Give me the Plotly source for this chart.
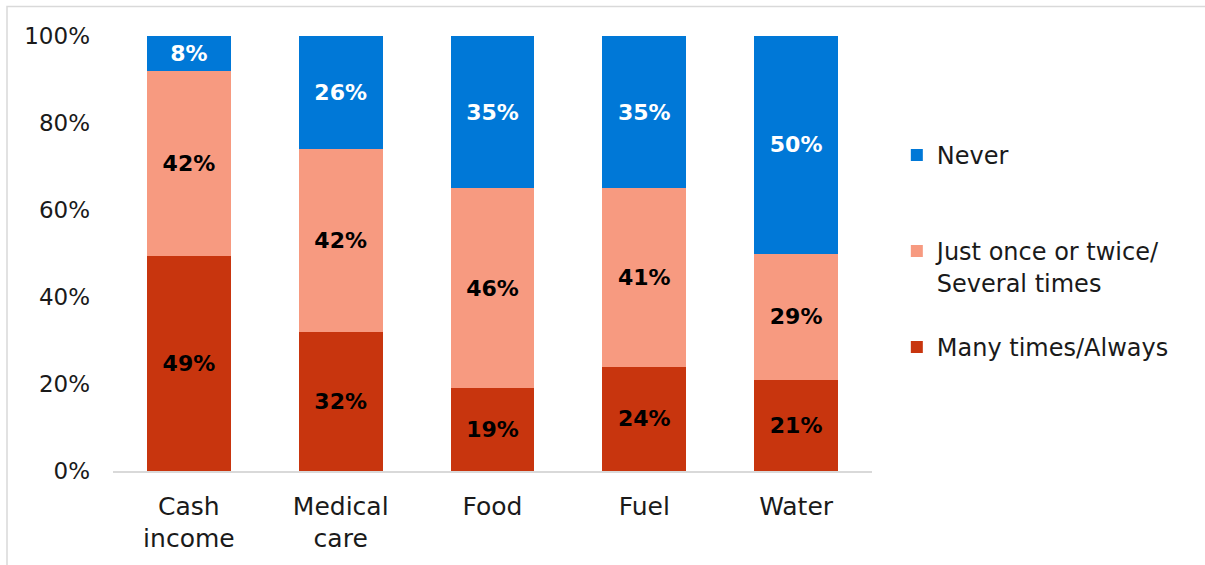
import plotly.graph_objects as go

categories = ["Cash<br>income", "Medical<br>care", "Food", "Fuel", "Water"]
many_always = [49, 32, 19, 24, 21]
once_several = [42, 42, 46, 41, 29]
never = [8, 26, 35, 35, 50]
y_ticks = [0, 20, 40, 60, 80, 100]
y_tick_labels = ["0%", "20%", "40%", "60%", "80%", "100%"]

FONT = "Century Gothic, DejaVu Sans, sans-serif"
W, H = 1205, 565
L, R, T, B = 113, 333, 36, 94

fig = go.Figure()
series = [
    ("Many times/Always", many_always, "#C8350E", "#000000", "legend3"),
    ("Just once or twice/<br>Several times", once_several, "#F79A80", "#000000", "legend2"),
    ("Never", never, "#0078D7", "#FFFFFF", "legend"),
]
for name, vals, col, tcol, lg in series:
    fig.add_trace(go.Bar(
        x=categories, y=vals, name=name,
        marker=dict(color=col, line=dict(width=0)),
        text=[f"{v}%" for v in vals], textposition="inside",
        insidetextanchor="middle", textangle=0,
        textfont=dict(family=FONT, size=22, color=tcol, weight="bold"),
        legend=lg, hoverinfo="skip",
    ))

def leg(ypix):
    return dict(x=939 / W - 0.035, y=1 - ypix / H, xref="container", yref="container",
                xanchor="left", yanchor="top", valign="top",
                font=dict(family=FONT, size=24, color="#1a1a1a"),
                bgcolor="rgba(0,0,0,0)", itemwidth=30)

fig.update_layout(
    width=W, height=H,
    barmode="stack", barnorm="percent", bargap=0.447,
    margin=dict(l=L, r=R, t=T, b=B),
    paper_bgcolor="white", plot_bgcolor="white",
    font=dict(family=FONT, size=22, color="#1a1a1a"),
    showlegend=True,
    legend=leg(133),
    legend2=leg(229),
    legend3=leg(325),
    xaxis=dict(showline=True, linecolor="#d9d9d9", linewidth=1.5, ticks="",
               ticklabelstandoff=12,
               tickfont=dict(family=FONT, size=25, color="#1a1a1a"), showgrid=False),
    yaxis=dict(range=[0, 100], tickvals=y_ticks, ticktext=y_tick_labels,
               showgrid=False, zeroline=False, showline=False, ticks="",
               ticklabelstandoff=22,
               tickfont=dict(family=FONT, size=23, color="#1a1a1a")),
    uniformtext=dict(minsize=22, mode="show"),
)

# chart-area border
pw, ph = W - L - R, H - T - B
fig.add_shape(type="rect", xref="paper", yref="paper",
              x0=(7 - L) / pw, x1=(W + 20 - L) / pw,
              y0=-(H + 20 - (H - B)) / ph, y1=((H - B) - 6.5) / ph,
              line=dict(color="#d9d9d9", width=1.5), fillcolor="rgba(0,0,0,0)", layer="below")

fig.write_html("out.html")
